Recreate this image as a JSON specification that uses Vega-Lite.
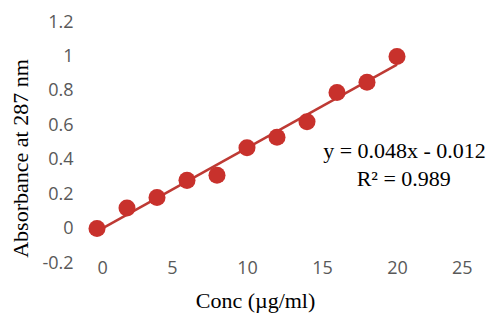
{
  "$schema": "https://vega.github.io/schema/vega-lite/v6.json",
  "width": 375,
  "height": 241,
  "autosize": {"type": "none"},
  "padding": {"left": 97, "top": 22, "right": 20, "bottom": 50},
  "background": "white",
  "config": {"view": {"stroke": null}},
  "data": {"values": [
    {"conc": 0, "abs": 0.0},
    {"conc": 2, "abs": 0.12},
    {"conc": 4, "abs": 0.18},
    {"conc": 6, "abs": 0.28},
    {"conc": 8, "abs": 0.31},
    {"conc": 10, "abs": 0.47},
    {"conc": 12, "abs": 0.53},
    {"conc": 14, "abs": 0.62},
    {"conc": 16, "abs": 0.79},
    {"conc": 18, "abs": 0.85},
    {"conc": 20, "abs": 1.0}
  ]},
  "encoding": {
    "x": {"field": "conc", "type": "quantitative",
      "scale": {"domain": [0, 25], "nice": false},
      "axis": {"title": "Conc (µg/ml)", "values": [0, 5, 10, 15, 20, 25], "grid": false, "domain": false, "ticks": false,
        "labelFont": "Open Sans", "labelFontSize": 18, "labelColor": "#595959", "labelPadding": -4,
        "titleFont": "Liberation Serif", "titleFontSize": 22, "titleFontWeight": "normal", "titleColor": "#000000",
        "titleX": 158, "titleY": 37, "titleBaseline": "middle"}},
    "y": {"field": "abs", "type": "quantitative",
      "scale": {"domain": [-0.2, 1.2], "nice": false, "zero": false},
      "axis": {"title": "Absorbance at 287 nm", "values": [-0.2, 0, 0.2, 0.4, 0.6, 0.8, 1, 1.2], "grid": false, "domain": false, "ticks": false,
        "labelExpr": "replace(format(datum.value, '.1~f'), '−', '-')",
        "labelFont": "Open Sans", "labelFontSize": 18, "labelColor": "#595959", "labelPadding": 24,
        "titleFont": "Liberation Serif", "titleFontSize": 22, "titleFontWeight": "normal", "titleColor": "#000000",
        "titleX": -77, "titleY": 136, "titleBaseline": "middle"}}
  },
  "layer": [
    {
      "transform": [{"regression": "abs", "on": "conc", "extent": [0, 20]}],
      "mark": {"type": "line", "color": "#BE3A34", "strokeWidth": 2.5}
    },
    {
      "mark": {"type": "point", "filled": true, "color": "#C8312C", "opacity": 1, "size": 290}
    },
    {
      "transform": [{"filter": "datum.conc == 20"}],
      "mark": {"type": "text", "font": "Liberation Serif", "fontSize": 22, "fontWeight": "normal", "fill": "#000000", "align": "center", "baseline": "middle"},
      "encoding": {"x": {"datum": 20.5}, "y": {"datum": 0.453}, "text": {"value": "y = 0.048x - 0.012"}}
    },
    {
      "transform": [{"filter": "datum.conc == 20"}],
      "mark": {"type": "text", "font": "Liberation Serif", "fontSize": 22, "fontWeight": "normal", "fill": "#000000", "align": "center", "baseline": "middle"},
      "encoding": {"x": {"datum": 20.45}, "y": {"datum": 0.29}, "text": {"value": "R² = 0.989"}}
    }
  ]
}
